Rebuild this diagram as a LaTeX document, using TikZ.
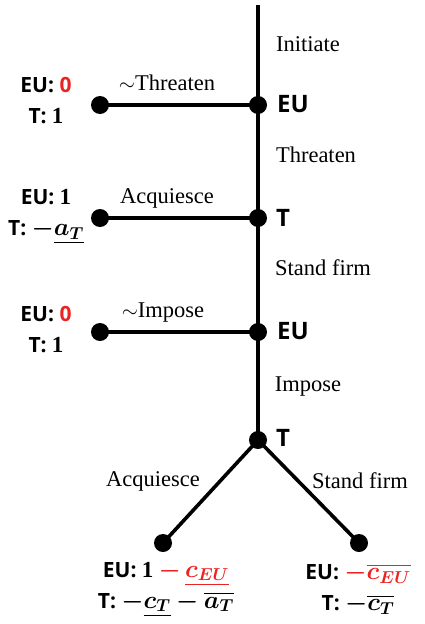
\documentclass[tikz,border=0pt]{standalone}
\usepackage{fontspec}
\usepackage{amsmath,bm}
\setmainfont{Liberation Serif}
\newfontfamily\nsans{Open Sans}[BoldFont={Open Sans Bold}]
\definecolor{pr}{RGB}{235,35,35}
\newcommand\sbf[1]{{\nsans\bfseries #1}}
\newcommand\mth[1]{{\fontsize{23}{31}\selectfont$\bm{#1}$}}
\newcommand\one{{\fontsize{23}{31}\selectfont\textbf{1}}}
\begin{document}
\begin{tikzpicture}[x=1pt,y=-1pt,
  edge/.style={line width=3.6pt},
  dot/.style={circle,fill=black,inner sep=0pt,minimum size=18pt},
  lbl/.style={font=\fontsize{22.5}{26}\selectfont},
  player/.style={font=\nsans\bfseries\fontsize{24}{28}\selectfont,anchor=west,inner sep=0pt},
  pay/.style={font=\fontsize{21}{31}\selectfont,align=center}]
\useasboundingbox (0,0) rectangle (425,624);
% trunk nodes
\coordinate (top) at (258,5);
\node[dot] (n1) at (258,105) {};
\node[dot] (n2) at (258,218) {};
\node[dot] (n3) at (258,332) {};
\node[dot] (n4) at (258,440) {};
% leaves
\node[dot] (l1) at (100,105) {};
\node[dot] (l2) at (100,218) {};
\node[dot] (l3) at (100,332) {};
\node[dot] (l4) at (163,543) {};
\node[dot] (l5) at (359,543) {};
% edges
\draw[edge] (top) -- (n1.center) -- (n2.center) -- (n3.center) -- (n4.center);
\draw[edge] (n1.center) -- (l1.center);
\draw[edge] (n2.center) -- (l2.center);
\draw[edge] (n3.center) -- (l3.center);
\draw[edge] (n4.center) -- (l4.center);
\draw[edge] (n4.center) -- (l5.center);
% player labels
\node[player] (p1) at (277,104) {EU};
\node[player] (p2) at (276,218) {T};
\node[player] (p3) at (277,331) {EU};
\node[player] (p4) at (276,438) {T};
% action labels
\node[lbl] (a0) at (308,44) {Initiate};
\node[lbl] (a1) at (167,83) {$\sim$Threaten};
\node[lbl] (a2) at (316,155) {Threaten};
\node[lbl] (a3) at (167,198) {Acquiesce};
\node[lbl] (a4) at (323,268) {Stand firm};
\node[lbl] (a5) at (163,313) {$\sim$Impose};
\node[lbl] (a6) at (308,387) {Impose};
\node[lbl] (a7) at (153,481) {Acquiesce};
\node[lbl] (a8) at (360,481) {Stand firm};
% payoffs
\node[pay] (u1) at (46,101) {\sbf{EU: \textcolor{pr}{0}}\\\sbf{T:} \one};
\node[pay] (u2) at (46,217) {\sbf{EU:} \one\\\sbf{T:} \mth{-\underline{a_T}}};
\node[pay] (u3) at (46,330) {\sbf{EU: \textcolor{pr}{0}}\\\sbf{T:} \one};
\node[pay] (u4) at (166,589) {\sbf{EU:} \one\ \textcolor{pr}{\mth{-\,\underline{c_{EU}}}}\\\sbf{T:} \mth{-\underline{c_T}-\overline{a_T}}};
\node[pay] (u5) at (358,589) {\sbf{EU:} \textcolor{pr}{\mth{-\overline{c_{EU}}}}\\\sbf{T:} \mth{-\overline{c_T}}};
\end{tikzpicture}
\end{document}
